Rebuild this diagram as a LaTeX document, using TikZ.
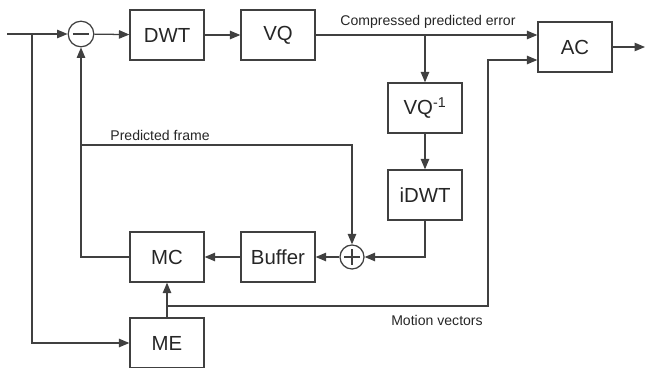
\documentclass[tikz,border=0pt]{standalone}
\usepackage{fontspec}
\setmainfont{Liberation Sans}
\usetikzlibrary{arrows.meta}
\begin{document}
\begin{tikzpicture}[x=0.025cm, y=-0.025cm,
        wire/.style={draw=black!75, line width=0.9pt},
        arr/.style={wire, -{Triangle[length=2.6mm, width=2.1mm]}},
        block/.style={wire, minimum width=1.85cm, minimum height=1.25cm, inner sep=0pt, font=\fontsize{14.5}{16}\selectfont, text=black!85},
        sumnode/.style={wire, circle, minimum size=0.64cm, inner sep=0pt},
        lbl/.style={font=\fontsize{10}{12}\selectfont, text=black!85, inner sep=0pt}]
        \useasboundingbox (0,0) rectangle (645,368);
        % forward path: difference, transform, quantise, entropy coder
        \coordinate (in) at (7,34);
        \coordinate (split) at (32,34);
        \node[sumnode] (sub) at (81,34) {};
        \draw[wire] ([xshift=-2mm]sub.center) -- ([xshift=2mm]sub.center);
        \node[block] (dwt) at (167,35) {DWT};
        \node[block] (vq) at (278,35) {VQ};
        \node[block] (ac) at (575,47) {AC};
        \coordinate (out) at (645,47);
        \node[lbl] (cpe) at (428,22) {Compressed predicted error};
        % local decoder loop
        \node[block] (ivq) at (425,108) {VQ\textsuperscript{-1}};
        \node[block] (idwt) at (425,195) {iDWT};
        \node[sumnode, minimum size=0.6cm] (add) at (352,257) {};
        \draw[wire] ([xshift=-1.9mm]add.center) -- ([xshift=1.9mm]add.center);
        \draw[wire] ([yshift=-1.9mm]add.center) -- ([yshift=1.9mm]add.center);
        \node[block] (buf) at (278,257) {Buffer};
        \node[block] (mc) at (167,257) {MC};
        \node[block] (me) at (167,343) {ME};
        \coordinate (pf) at (81,145);
        \node[lbl] (pflbl) at (160,135) {Predicted frame};
        \coordinate (mv) at (167,306);
        \coordinate (mvup) at (488,60);
        \node[lbl] (mvlbl) at (437,320) {Motion vectors};
        % connectors
        \draw[arr] (in) -- (sub);
        \draw[arr] (split) |- (me);
        \draw[arr] (sub) -- (dwt);
        \draw[arr] (dwt) -- (vq);
        \draw[arr] (vq) -- (vq -| ac.west);
        \draw[arr] (vq -| ivq) -- (ivq);
        \draw[arr] (ivq) -- (idwt);
        \draw[arr] (idwt) |- (add);
        \draw[arr] (add) -- (buf);
        \draw[arr] (buf) -- (mc);
        \draw[arr] (mc) -| (sub);
        \draw[arr] (pf) -| (add);
        \draw[arr] (me) -- (mc);
        \draw[arr] (mv) -| (mvup) -- (mvup -| ac.west);
        \draw[arr] (ac) -- (out);
    \end{tikzpicture}
\end{document}
